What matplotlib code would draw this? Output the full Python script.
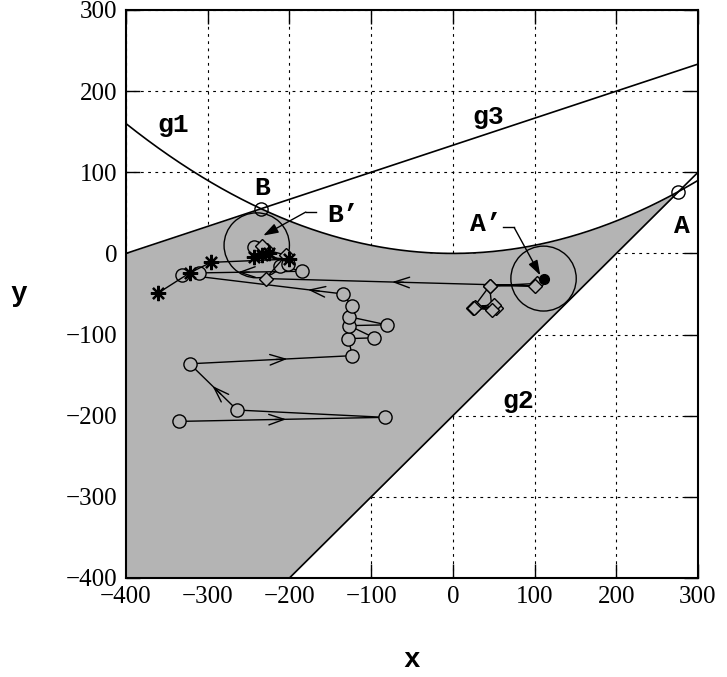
import numpy as np
import matplotlib
matplotlib.use("Agg")
import matplotlib.pyplot as plt
from matplotlib.patches import Circle

# ---------------- data ----------------
# constraint boundaries: g1: y = x^2/1000, g2: y = x - 200, g3: y = (x + 400)/3
g1_a = 1 / 1000.0
g2_slope, g2_icpt = 1.0, -200.0
g3_slope, g3_icpt = 1 / 3.0, 400 / 3.0

point_A = (276, 76)
point_B = (-235, 55)
center_A2 = (111, -31)
center_B2 = (-240, 10)
radius = 40

# trajectory with circle markers
circ_x = [-335, -83, -264, -322, -123, -128, -96, -127, -81, -127, -124, -134,
          -331, -311, -185, -211, -202, -243]
circ_y = [-207, -202, -193, -136, -126, -105, -104, -89, -88, -78, -65, -50,
          -26, -24, -22, -15, -13, 8]
# arrows on the circle trajectory: (from index, to index, fraction of tip)
circ_arrows = [(0, 1, 0.52), (2, 3, 0.52), (3, 4, 0.60), (11, 12, 0.22), (14, 13, 0.62)]

# trajectory with diamond markers
diam_x = [103, 45, 25, 53, 27, 50, 26, 48, 45, 100, -229, -204, -228, -233]
diam_y = [-37, -40, -67, -67, -66, -63, -67, -70, -40, -40, -31, -2, 4, 9]
diam_arrows = [(9, 10, 0.53)]

# trajectory with asterisk markers
ast_x = [-361, -322, -296, -200, -243, -233, -225]
ast_y = [-49, -24, -11, -7, -4, -2, 1]

xticks = [-400, -300, -200, -100, 0, 100, 200, 300]
yticks = [-400, -300, -200, -100, 0, 100, 200, 300]

GRAY = "#b4b4b4"
MONO = "Liberation Mono"
SERIF = "Liberation Serif"

# ---------------- figure ----------------
fig = plt.figure(figsize=(7.27, 6.77), dpi=100)
ax = fig.add_axes([126 / 727, 1 - 578 / 677, 572 / 727, 568 / 677])
ax.set_xlim(-400, 300)
ax.set_ylim(-400, 300)

# feasible region
xs = np.linspace(-400, point_A[0], 600)
upper = np.minimum(g3_slope * xs + g3_icpt, g1_a * xs ** 2)
lower = np.maximum(-400, g2_slope * xs + g2_icpt)
ax.fill_between(xs, lower, upper, color=GRAY, lw=0, zorder=1)

# boundaries
xf = np.linspace(-400, 300, 800)
ax.plot(xf, g1_a * xf ** 2, color="black", lw=1.2, zorder=3)
ax.plot(xf, g2_slope * xf + g2_icpt, color="black", lw=1.2, zorder=3)
ax.plot(xf, g3_slope * xf + g3_icpt, color="black", lw=1.2, zorder=3)

# circles around A' and B'
for c in (center_A2, center_B2):
    ax.add_patch(Circle(c, radius, fill=False, ec="black", lw=1.0, zorder=4))

def draw_arrows(xx, yy, specs):
    for i, j, f in specs:
        x0, y0 = xx[i], yy[i]
        x1, y1 = xx[j], yy[j]
        tx, ty = x0 + f * (x1 - x0), y0 + f * (y1 - y0)
        d = np.hypot(x1 - x0, y1 - y0)
        bx, by = tx - (x1 - x0) / d * 14, ty - (y1 - y0) / d * 14
        ax.annotate("", xy=(tx, ty), xytext=(bx, by),
                    arrowprops=dict(arrowstyle="->,head_length=1.1,head_width=0.38",
                                    lw=1.0, color="black", shrinkA=0, shrinkB=0),
                    zorder=5)

# trajectories
ax.plot(circ_x, circ_y, color="black", lw=1.0, marker="o", ms=9.5,
        mfc=GRAY, mec="black", mew=1.0, zorder=6)
draw_arrows(circ_x, circ_y, circ_arrows)
ax.plot(diam_x, diam_y, color="black", lw=1.0, marker="D", ms=7,
        mfc=GRAY, mec="black", mew=1.0, zorder=6)
draw_arrows(diam_x, diam_y, diam_arrows)
ax.plot(ast_x, ast_y, color="black", lw=1.0, marker=(8, 2, 0), ms=11,
        mec="black", mew=1.6, zorder=6, ls="-")

# centre points
ax.plot([center_A2[0]], [center_A2[1]], "o", color="black", ms=7, zorder=7)
ax.plot([center_B2[0]], [center_B2[1]], "o", color="black", ms=5, zorder=5)

# points A, B
ax.plot([point_A[0], point_B[0]], [point_A[1], point_B[1]], "o", ms=9.5,
        mfc="none", mec="black", mew=1.0, zorder=6)

# labels
lab = dict(family=MONO, fontweight="bold", fontsize=19, ha="center", va="center", zorder=8)
ax.text(-342, 158, "g1", **lab)
ax.text(43, 168, "g3", **lab)
ax.text(80, -182, "g2", **lab)
ax.text(-233, 81, "B", **lab)
ax.text(280, 34, "A", **lab)
ax.text(-134, 47, "B\u2019", **lab)
ax.text(40, 36, "A\u2019", **lab)

# leaders with filled arrowheads
ax.plot([61, 75], [32, 32], color="black", lw=1.0, zorder=8)
ax.annotate("", xy=(107, -27), xytext=(75, 32),
            arrowprops=dict(arrowstyle="-|>,head_length=0.9,head_width=0.3",
                            lw=1.0, color="black", fc="black", shrinkA=0, shrinkB=0),
            zorder=8)
ax.plot([-167, -180], [51, 51], color="black", lw=1.0, zorder=8)
ax.annotate("", xy=(-232, 22), xytext=(-180, 51),
            arrowprops=dict(arrowstyle="-|>,head_length=0.9,head_width=0.3",
                            lw=1.0, color="black", fc="black", shrinkA=0, shrinkB=0),
            zorder=8)

# axes styling
ax.set_xticks(xticks)
ax.set_yticks(yticks)
ax.set_xticklabels([str(v).replace("-", "\u2212") for v in xticks], family=SERIF, fontsize=18)
ax.set_yticklabels([str(v).replace("-", "\u2212") for v in yticks], family=SERIF, fontsize=18)
ax.tick_params(direction="in", length=10, width=1.0, top=True, right=True, pad=6)
ax.grid(True, color="black", linestyle=(0, (2.5, 4)), lw=0.8, zorder=0)
ax.set_axisbelow(True)
for s in ax.spines.values():
    s.set_linewidth(1.5)
    s.set_zorder(10)

ax.set_xlabel("x", family=MONO, fontweight="bold", fontsize=20, labelpad=28)
ax.set_ylabel("y", family=MONO, fontweight="bold", fontsize=20, rotation=0,
              labelpad=34, va="center")

fig.savefig("out.png", dpi=100)
